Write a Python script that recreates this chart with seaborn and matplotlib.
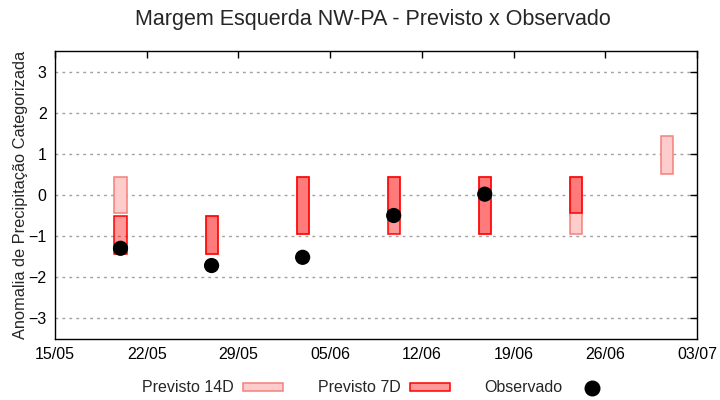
import pandas as pd
import matplotlib
matplotlib.use('Agg')
import matplotlib.pyplot as plt
import matplotlib.dates as mdates
from matplotlib.patches import Patch
from matplotlib.lines import Line2D
import seaborn as sns
import numpy as np

# Forecast weeks (centre dates) and category ranges
dates = pd.to_datetime(['2024-05-20', '2024-05-27', '2024-06-03', '2024-06-10',
                        '2024-06-17', '2024-06-24', '2024-07-01'])
p14_low = [-0.45, -1.45, -0.95, -0.45, -0.95, -0.95, 0.5]
p14_high = [0.45, -0.5, 0.45, 0.45, 0.45, 0.45, 1.45]
p7_low = [-1.45, -1.45, -0.95, -0.95, -0.95, -0.45, np.nan]
p7_high = [-0.5, -0.5, 0.45, 0.45, 0.45, 0.45, np.nan]

# Observed anomaly
obs_dates = pd.to_datetime(['2024-05-20', '2024-05-27', '2024-06-03', '2024-06-10', '2024-06-17'])
obs_vals = [-1.3, -1.72, -1.52, -0.5, 0.02]

tick_dates = pd.date_range('2024-05-15', '2024-07-03', freq='7D')

sns.set_style('white')
plt.rcParams['font.family'] = ['Liberation Sans', 'DejaVu Sans']

fig = plt.figure(figsize=(7.2, 4), dpi=100)
ax = fig.add_axes([55 / 720, 61.5 / 400, 642 / 720, 287 / 400])

c14_face = '#ffcccc'
c14_edge = '#f4807a'
c7_face = (1, 0, 0, 0.4)
c7_edge = '#ff0000'

# bars are drawn a touch before the date, like the original
shift = pd.to_timedelta(np.arange(len(dates)) * -0.05, unit='D')
xpos = dates + shift

h14 = np.array(p14_high) - np.array(p14_low)
h7 = np.array(p7_high) - np.array(p7_low)
ax.bar(xpos, h14, bottom=p14_low, width=0.92, color=c14_face,
       edgecolor=c14_edge, linewidth=1.1, zorder=2)
ax.bar(xpos, h7, bottom=p7_low, width=0.92, color=c7_face,
       edgecolor=c7_edge, linewidth=1.1, zorder=3)

df_obs = pd.DataFrame({'data': xpos[:len(obs_vals)], 'valor': obs_vals})
sns.scatterplot(data=df_obs, x='data', y='valor', color='black', s=120,
                edgecolor='none', ax=ax, zorder=4)

ax.set_xlim(tick_dates[0], tick_dates[-1])
ax.set_ylim(-3.5, 3.5)
ax.set_yticks(range(-3, 4))
ax.set_xticks(tick_dates)
ax.xaxis.set_major_formatter(mdates.DateFormatter('%d/%m'))
ax.tick_params(direction='in', top=True, right=True, length=5, width=1,
               labelsize=11.5, colors='black', pad=6)
ax.yaxis.grid(True, linestyle=(0, (2, 3)), color='#a0a0a0', linewidth=1)
ax.xaxis.grid(False)
for s in ax.spines.values():
    s.set_color('black')
    s.set_linewidth(1)
ax.set_xlabel('')
ax.set_ylabel('Anomalia de Precipitação Categorizada', fontsize=11.8, labelpad=0)

fig.text(373 / 720, 1 - 20 / 400, 'Margem Esquerda NW-PA - Previsto x Observado',
         ha='center', va='center', fontsize=15.5)

handles = [
    Patch(facecolor=c14_face, edgecolor=c14_edge, linewidth=1.1),
    Patch(facecolor=c7_face, edgecolor=c7_edge, linewidth=1.1),
    Line2D([], [], linestyle='none', marker='o', color='black', markersize=10.5),
]
labels = ['Previsto 14D', 'Previsto 7D', 'Observado']
fig.legend(handles, labels, loc='center', bbox_to_anchor=(377 / 720, 1 - 388 / 400),
           ncol=3, frameon=False, markerfirst=False, fontsize=11.5,
           handlelength=2.5, handleheight=0.4, handletextpad=0.55, columnspacing=2.2)

fig.savefig('out.png', dpi=100)
